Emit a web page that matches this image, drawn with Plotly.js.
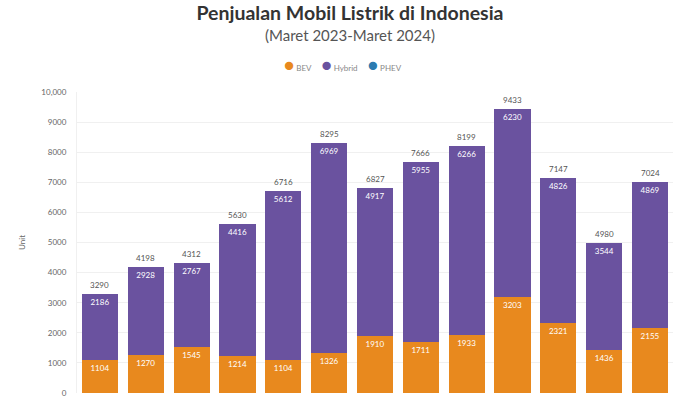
<!DOCTYPE html>
<html>
<head>
<meta charset="utf-8">
<script src="https://cdn.plot.ly/plotly-3.0.1.min.js"></script>
<style>
  html, body { margin: 0; padding: 0; background: #fff; }
  #chart { width: 700px; height: 400px; }
</style>
</head>
<body>
<div id="chart"></div>
<script>
var months = ['Mar 2023', 'Apr 2023', 'Mei 2023', 'Jun 2023', 'Jul 2023', 'Agu 2023', 'Sep 2023',
              'Okt 2023', 'Nov 2023', 'Des 2023', 'Jan 2024', 'Feb 2024', 'Mar 2024'];
var bev    = [1104, 1270, 1545, 1214, 1104, 1326, 1910, 1711, 1933, 3203, 2321, 1436, 2155];
var hybrid = [2186, 2928, 2767, 4416, 5612, 6969, 4917, 5955, 6266, 6230, 4826, 3544, 4869];
var phev   = [0, 0, 0, 0, 0, 0, 0, 0, 0, 0, 0, 0, 0];

var seriesNames = ['BEV', 'Hybrid', 'PHEV'];
var seriesColors = ['#E8891E', '#6A529F', '#2B7BB0'];

var yTicks = [0, 1000, 2000, 3000, 4000, 5000, 6000, 7000, 8000, 9000, 10000];
var yTickText = ['0', '1000', '2000', '3000', '4000', '5000', '6000', '7000', '8000', '9000', '10,000'];

var totals = months.map(function (m, i) { return bev[i] + hybrid[i] + phev[i]; });

function segment(name, values, color) {
  return {
    type: 'bar',
    name: name,
    x: months,
    y: values,
    marker: { color: color },
    text: values.map(function (v) { return v > 0 ? String(v) : ''; }),
    textposition: 'inside',
    insidetextanchor: 'end',
    textangle: 0,
    textfont: { family: 'Lato, sans-serif', size: 8, color: '#ffffff' },
    hoverinfo: 'x+y+name'
  };
}

var data = [
  segment(seriesNames[0], bev, seriesColors[0]),
  segment(seriesNames[1], hybrid, seriesColors[1]),
  segment(seriesNames[2], phev, seriesColors[2])
];

// total labels above each stack
var notes = months.map(function (m, i) {
  return {
    x: m, y: totals[i], xref: 'x', yref: 'y',
    text: String(totals[i]), showarrow: false, yanchor: 'bottom', yshift: 2,
    font: { family: 'Lato, sans-serif', size: 8, color: '#555' }
  };
});

// subtitle
notes.push({
  text: '(Maret 2023-Maret 2024)', xref: 'paper', yref: 'paper',
  x: (349.5 - 77) / 596, y: (393.3 - 35) / 301.6, yanchor: 'middle', showarrow: false,
  font: { family: 'Lato, sans-serif', size: 15, color: '#555' }
});

// compact legend with round dots
var legendText = seriesNames.map(function (n, i) {
  return '<span style="color:' + seriesColors[i] + ';font-size:17px">●</span>&nbsp;' + n;
}).join('&nbsp;&nbsp;&nbsp;&nbsp;&nbsp;');
notes.push({
  text: legendText, xref: 'paper', yref: 'paper',
  x: (343 - 77) / 596, y: (393.3 - 64) / 301.6, yanchor: 'middle', showarrow: false,
  font: { family: 'Lato, sans-serif', size: 8, color: '#888' }
});

var layout = {
  width: 700,
  height: 400,
  barmode: 'stack',
  bargap: 0.21,
  paper_bgcolor: '#fff',
  plot_bgcolor: '#fff',
  margin: { l: 77, r: 27, t: 92, b: 7 },
  font: { family: 'Lato, sans-serif', color: '#555' },
  title: {
    text: '<b>Penjualan Mobil Listrik di Indonesia</b>',
    x: 0.5, xref: 'container', y: 1 - 13 / 400, yanchor: 'middle',
    font: { family: 'Lato, sans-serif', size: 19.5, color: '#333' }
  },
  showlegend: false,
  xaxis: {
    type: 'category',
    showgrid: false,
    showline: false,
    showticklabels: false,
    ticks: ''
  },
  yaxis: {
    range: [0, 10000],
    tickvals: yTicks,
    ticktext: yTickText,
    tickfont: { size: 8, color: '#666' },
    gridcolor: '#f0f0f0',
    zeroline: false,
    showline: true,
    linecolor: '#f0f0f0',
    ticks: '',
    ticklabelstandoff: 8,
    title: { text: 'Unit', font: { size: 8, color: '#666' }, standoff: 14 }
  },
  annotations: notes
};

Plotly.newPlot('chart', data, layout, { displayModeBar: false, staticPlot: true });
</script>
</body>
</html>
